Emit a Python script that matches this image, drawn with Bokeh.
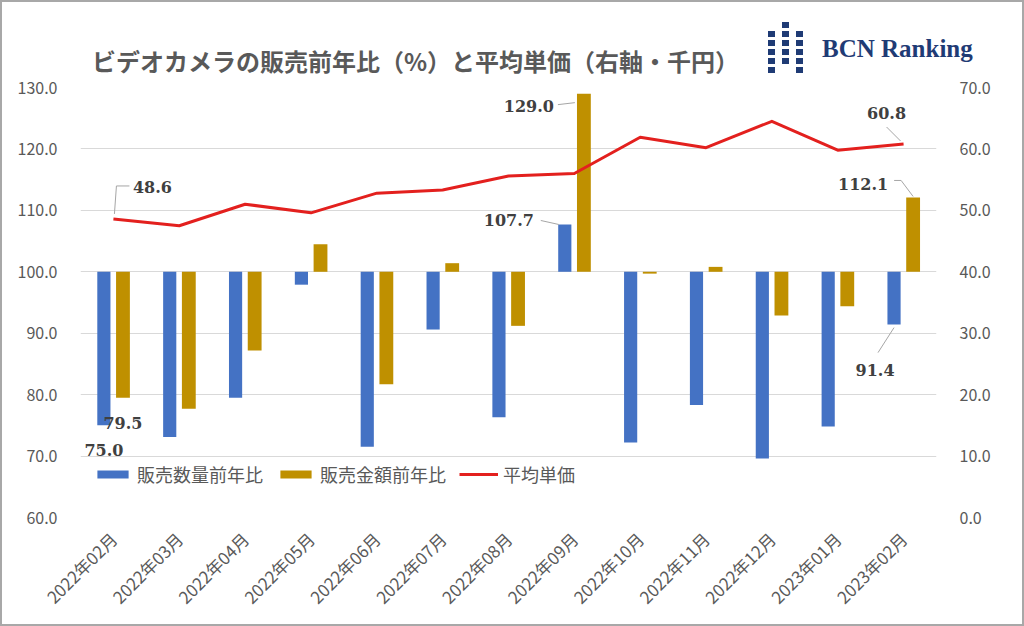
import math
import numpy as np
from bokeh.plotting import figure
from bokeh.layouts import column
from bokeh.models import (Range1d, LinearAxis, FixedTicker, NumeralTickFormatter, Label,
                          Legend, LegendItem, ColumnDataSource, Div)
from bokeh.embed import file_html
from bokeh.resources import INLINE

# ---------------- data ----------------
months = ["2022年02月", "2022年03月", "2022年04月", "2022年05月", "2022年06月", "2022年07月",
          "2022年08月", "2022年09月", "2022年10月", "2022年11月", "2022年12月", "2023年01月",
          "2023年02月"]
qty_yoy = [75.0, 73.1, 79.5, 97.9, 71.5, 90.6, 76.3, 107.7, 72.2, 78.3, 69.6, 74.8, 91.4]
amt_yoy = [79.5, 77.7, 87.2, 104.5, 81.7, 101.4, 91.2, 129.0, 99.7, 100.8, 92.9, 94.4, 112.1]
avg_price = [48.6, 47.5, 51.0, 49.6, 52.8, 53.3, 55.6, 56.0, 61.9, 60.2, 64.5, 59.8, 60.8]
left_ticks = [60, 70, 80, 90, 100, 110, 120, 130]
right_ticks = [0, 10, 20, 30, 40, 50, 60, 70]
series_names = ["販売数量前年比", "販売金額前年比", "平均単価"]
title_text = "ビデオカメラの販売前年比（%）と平均単価（右軸・千円）"
logo_text = "BCN Ranking"

# ---------------- layout ----------------
W, H = 1024, 626
HH = 75                      # header height
FL, FR, FT, FB = 80, 936, 87, 517   # frame in page pixels
BLUE, GOLD, RED = "#4472C4", "#BF9000", "#E3201E"
GREY = "#595959"
NAVY = "#1F3B75"
JP = "Noto Sans CJK JP"
BORDER = "#A8A8A8"

# ---------------- header (title + logo) as HTML ----------------
squares = []
for cx, rows in [(768, [31, 40, 49, 58, 67]), (782, [22, 31, 40, 49, 58]),
                 (796, [31, 40, 49, 58, 67])]:
    for ry in rows:
        squares.append(f'<div style="position:absolute;left:{cx}px;top:{ry}px;width:7px;'
                       f'height:6px;background:{NAVY};"></div>')
header_html = (
    f'<div style="position:relative;width:{W}px;height:{HH}px;margin:0;padding:0;">'
    f'<div style="position:absolute;left:0;top:0;width:{W}px;height:{H}px;box-sizing:border-box;'
    f'border:2px solid {BORDER};z-index:100;pointer-events:none;"></div>'
    f'<div style="position:absolute;left:92px;top:49px;white-space:nowrap;line-height:24px;'
    f'font-family:\'{JP}\';font-weight:bold;font-size:24px;color:{GREY};">{title_text}</div>'
    f'<div style="position:absolute;left:822px;top:36px;white-space:nowrap;line-height:25px;'
    f'font-family:\'Liberation Serif\';font-weight:bold;font-size:25px;color:{NAVY};">{logo_text}</div>'
    + "".join(squares) + '</div>'
)
header = Div(text=header_html, width=W, height=HH, margin=0,
             styles={"overflow": "visible", "z-index": "10", "position": "relative"})

# ---------------- main chart ----------------
PH = H - HH
p = figure(width=W, height=PH, output_backend="svg", toolbar_location=None,
           x_range=Range1d(-0.5, len(months) - 0.5),
           y_range=Range1d(left_ticks[0], left_ticks[-1]),
           min_border_left=FL, min_border_right=W - FR,
           min_border_top=FT - HH, min_border_bottom=H - FB, margin=0)
p.extra_y_ranges = {"price": Range1d(right_ticks[0], right_ticks[-1])}
p.outline_line_color = None
p.background_fill_color = "white"
p.border_fill_color = "white"

xs = np.arange(len(months))
src = ColumnDataSource(dict(x=xs, xq=xs - 0.145, xa=xs + 0.145,
                            q=qty_yoy, a=amt_yoy, price=avg_price))

p.xgrid.visible = False
p.ygrid.ticker = FixedTicker(ticks=left_ticks)
p.ygrid.grid_line_color = "#D9D9D9"
p.ygrid.grid_line_width = 1

blue = p.vbar(x="xq", width=0.2, bottom=100, top="q", source=src,
              fill_color=BLUE, line_color=None)
gold = p.vbar(x="xa", width=0.21, bottom=100, top="a", source=src,
              fill_color=GOLD, line_color=None)
red = p.line("x", "price", source=src, y_range_name="price",
             line_color=RED, line_width=3, line_join="round")


def style_axis(ax, size="16px"):
    ax.axis_line_color = None
    ax.major_tick_line_color = None
    ax.minor_tick_line_color = None
    ax.major_label_text_color = GREY
    ax.major_label_text_font = JP
    ax.major_label_text_font_size = size


ya = p.yaxis[0]
ya.ticker = FixedTicker(ticks=left_ticks)
ya.formatter = NumeralTickFormatter(format="0.0")
style_axis(ya)
ya.major_label_standoff = 17

ra = LinearAxis(y_range_name="price", ticker=FixedTicker(ticks=right_ticks),
                formatter=NumeralTickFormatter(format="0.0"))
style_axis(ra)
ra.major_label_standoff = 17
p.add_layout(ra, "right")

xa = p.xaxis[0]
xa.ticker = FixedTicker(ticks=list(range(len(months))))
xa.major_label_overrides = {i: m for i, m in enumerate(months)}
style_axis(xa, "17px")
xa.major_label_orientation = math.pi / 4
xa.major_label_standoff = 12

legend = Legend(items=[LegendItem(label=series_names[0], renderers=[blue]),
                       LegendItem(label=series_names[1], renderers=[gold]),
                       LegendItem(label=series_names[2], renderers=[red])],
                orientation="horizontal", location=(13, 30),
                border_line_color=None, background_fill_alpha=0,
                padding=0, margin=0, spacing=13, label_standoff=5,
                glyph_width=39, glyph_height=10,
                label_text_font=JP, label_text_font_size="18px",
                label_text_color=GREY)
p.add_layout(legend, "center")

# data labels (index, series, px offset x, px offset y (down +), leader polyline)
PXX = (FR - FL) / len(months)
PXY = (FB - FT) / (left_ticks[-1] - left_ticks[0])
PXR = (FB - FT) / (right_ticks[-1] - right_ticks[0])
offs = {"q": -0.145, "a": 0.145, "price": 0.0}
vals = {"q": qty_yoy, "a": amt_yoy, "price": avg_price}
annots = [
    (0, "price", 39, -32, [(1, -5), (3, -33), (16, -33)]),
    (0, "q", 0, 25, None),
    (0, "a", 0, 25, None),
    (7, "q", -56, -4, [(-24, -4), (-6, 0)]),
    (7, "a", -55, 12, [(-26, 11), (-9, 9)]),
    (12, "price", -17, -31, [(-17, -17), (-3, -3)]),
    (12, "a", -50, -13, [(-19, -17), (-12, -17), (0, -1)]),
    (12, "q", -19, 45, [(0, 3), (-16, 28)]),
]
for i, key, dx, dy, leader in annots:
    v = vals[key][i]
    x0 = i + offs[key]
    kw = {"y_range_name": "price"} if key == "price" else {}
    pxy = PXR if key == "price" else PXY
    if leader:
        lx = [x0 + a / PXX for a, b in leader]
        ly = [v - b / pxy for a, b in leader]
        p.line(lx, ly, line_color="#A6A6A6", line_width=1, **kw)
    p.add_layout(Label(x=x0, y=v, x_offset=dx, y_offset=-dy, text=f"{v:.1f}",
                       text_align="center", text_baseline="middle",
                       text_font="DejaVu Serif", text_font_style="bold",
                       text_font_size="16px", text_color="#404040", **kw))

page = column(header, p, spacing=0, margin=0)

open("out.html", "w").write(file_html(page, INLINE))
